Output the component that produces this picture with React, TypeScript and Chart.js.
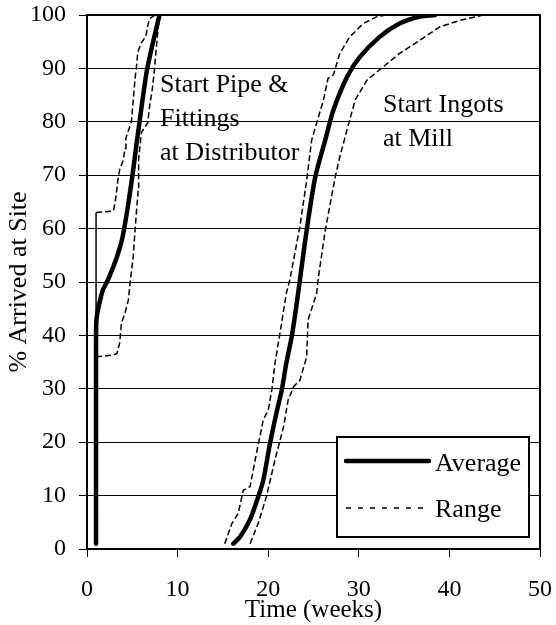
import React, { useEffect, useRef } from "react";
import { Chart, registerables } from "chart.js";

Chart.register(...registerables);

const FONT = '"Liberation Serif", "Times New Roman", serif';

// Axis ticks
const xTickValues = [0, 10, 20, 30, 40, 50];
const yTickValues = [0, 10, 20, 30, 40, 50, 60, 70, 80, 90, 100];

// Start Pipe & Fittings at Distributor — average
const pipeAvgWeeks = [1, 1, 1.05, 1.3, 1.75, 2.2, 2.7, 3.3, 3.8, 4.1, 4.5, 4.85, 5.1, 5.4, 5.8, 6.2, 6.65, 7.3, 8.0];
const pipeAvgPct = [1, 40, 43, 45.5, 48.5, 50, 52, 54.7, 57.5, 60, 64, 68, 71, 75, 80, 85, 90, 95, 100];

// Start Pipe & Fittings — range (earliest)
const pipeFastWeeks = [1, 1, 2.9, 3.0, 3.2, 3.4, 3.6, 4.0, 4.2, 4.3, 4.6, 4.9, 5.0, 5.2, 5.3, 5.5, 5.6, 6.0, 6.5, 6.7, 6.9, 7.5];
const pipeFastPct = [1, 63, 63.3, 64, 66, 69, 71, 72.8, 75, 77, 78.5, 80, 82, 86, 88, 91, 93, 94.8, 96, 98, 99.3, 100];

// Start Pipe & Fittings — range (latest)
const pipeSlowWeeks = [1, 1, 2.8, 3.3, 3.6, 3.8, 4.2, 4.56, 4.75, 5.1, 5.3, 5.5, 5.65, 5.7, 6.0, 6.7, 6.9, 7.2, 7.4, 7.7, 8.0];
const pipeSlowPct = [1, 36, 36.3, 36.6, 38.5, 42.3, 44.2, 46.6, 49.8, 54.7, 59.7, 64, 67.2, 73, 78, 79.8, 82.8, 86, 89, 94.8, 100];

// Start Ingots at Mill — average
const ingotAvgWeeks = [16.15, 16.9, 17.96, 18.9, 19.46, 20.2, 20.9, 21.5, 22.0, 22.6, 23.1, 23.5, 24.25, 25.2, 26.3, 27.2, 28.7, 30.1, 32.3, 34.5, 36.75, 38.4];
const ingotAvgPct = [1, 2.3, 5.4, 9.8, 12.9, 19.8, 25.4, 29.8, 34.8, 39.8, 45.4, 50.4, 59.7, 69.7, 76.6, 82.2, 88.4, 92.1, 95.9, 98.4, 99.7, 100];

// Start Ingots — range (earliest)
const ingotFastWeeks = [15.2, 16.0, 16.7, 17.25, 18.0, 18.7, 19.46, 20.0, 20.4, 20.75, 21.3, 22.0, 22.4, 23.5, 24.25, 24.8, 26.1, 26.6, 27.2, 27.9, 29.0, 30.5, 32.0, 33.0];
const ingotFastPct = [1, 4.8, 6.7, 11, 11.7, 17.9, 24.2, 26, 29.8, 34.8, 40.4, 47.9, 50.5, 60.4, 69.1, 76.6, 84.1, 88.1, 88.8, 92.8, 95.9, 98.4, 99.7, 100];

// Start Ingots — range (latest)
const ingotSlowWeeks = [18.0, 18.9, 19.8, 20.75, 21.7, 22.2, 22.8, 23.5, 24.25, 24.4, 25.35, 25.5, 26.3, 27.4, 27.9, 28.7, 29.6, 30.9, 32.7, 34.5, 36.75, 38.96, 41.2, 43.0, 43.7];
const ingotSlowPct = [1, 4.8, 9.8, 16.7, 22.9, 27.9, 30.4, 31.6, 36, 42.9, 47.9, 50.4, 59.7, 69.7, 73.4, 78.5, 84.1, 87.8, 90.3, 92.8, 95.3, 97.8, 99, 99.7, 100];

// Text labels placed at data positions (weeks, %)
const labelPipe = { x: 8.06, y: 85.6, lines: ["Start Pipe &", "Fittings", "at Distributor"] };
const labelIngot = { x: 32.67, y: 81.9, lines: ["Start Ingots", "at Mill"] };
const legendNames = ["Average", "Range"];

const zip = (xs: number[], ys: number[]) => xs.map((x, i) => ({ x, y: ys[i] }));

const rangeDash = [6, 3];

const avgStyle = {
  borderColor: "#000",
  borderWidth: 4.5,
  borderCapStyle: "round" as const,
  borderJoinStyle: "round" as const,
  pointRadius: 0,
  showLine: true,
  tension: 0.3,
  fill: false,
};

const rangeStyle = {
  borderColor: "#000",
  borderWidth: 1.5,
  pointRadius: 0,
  showLine: true,
  tension: 0,
  fill: false,
  segment: {
    borderDash: (ctx: any) => (ctx.p0.parsed.x === ctx.p1.parsed.x ? [] : rangeDash),
  },
};

const decorPlugin = {
  id: "decor",
  beforeDatasetsDraw(chart: any) {
    const { ctx, chartArea: ca } = chart;
    ctx.save();
    ctx.strokeStyle = "#000";
    ctx.lineWidth = 2;
    ctx.strokeRect(ca.left, ca.top, ca.right - ca.left, ca.bottom - ca.top);
    ctx.restore();
  },
  afterDatasetsDraw(chart: any) {
    const { ctx, chartArea: ca, scales } = chart;
    const xs = scales.x;
    const ys = scales.y;
    ctx.save();
    ctx.fillStyle = "#000";
    ctx.font = `26px ${FONT}`;
    ctx.textAlign = "left";
    ctx.textBaseline = "alphabetic";
    for (const lbl of [labelPipe, labelIngot]) {
      const px = xs.getPixelForValue(lbl.x);
      const py = ys.getPixelForValue(lbl.y);
      lbl.lines.forEach((line, i) => ctx.fillText(line, px, py + i * 34));
    }

    // Legend box
    const w = 192;
    const h = 100;
    const L = ca.right - 11 - w;
    const T = ca.bottom - 12 - h;
    ctx.fillStyle = "#fff";
    ctx.fillRect(L, T, w, h);
    ctx.strokeStyle = "#000";
    ctx.lineWidth = 2;
    ctx.strokeRect(L, T, w, h);

    ctx.lineCap = "round";
    ctx.lineWidth = 4.5;
    ctx.beginPath();
    ctx.moveTo(L + 9, T + 24);
    ctx.lineTo(L + 92, T + 24);
    ctx.stroke();

    ctx.lineCap = "butt";
    ctx.lineWidth = 1.5;
    ctx.setLineDash([5, 7]);
    ctx.beginPath();
    ctx.moveTo(L + 9, T + 71);
    ctx.lineTo(L + 92, T + 71);
    ctx.stroke();
    ctx.setLineDash([]);

    ctx.fillStyle = "#000";
    ctx.fillText(legendNames[0], L + 98, T + 34);
    ctx.fillText(legendNames[1], L + 98, T + 80);
    ctx.restore();
  },
};

export default function App() {
  const canvasRef = useRef<HTMLCanvasElement | null>(null);

  useEffect(() => {
    if (!canvasRef.current) return;
    const chart = new Chart(canvasRef.current, {
      type: "scatter",
      data: {
        datasets: [
          { label: "Pipe Average", data: zip(pipeAvgWeeks, pipeAvgPct), ...avgStyle, tension: 0.25 },
          { label: "Pipe Range Fast", data: zip(pipeFastWeeks, pipeFastPct), ...rangeStyle },
          { label: "Pipe Range Slow", data: zip(pipeSlowWeeks, pipeSlowPct), ...rangeStyle },
          { label: "Ingot Average", data: zip(ingotAvgWeeks, ingotAvgPct), ...avgStyle },
          { label: "Ingot Range Fast", data: zip(ingotFastWeeks, ingotFastPct), ...rangeStyle },
          { label: "Ingot Range Slow", data: zip(ingotSlowWeeks, ingotSlowPct), ...rangeStyle },
        ],
      } as any,
      options: {
        animation: false,
        responsive: true,
        maintainAspectRatio: false,
        layout: { padding: { left: 0, top: 15, right: 16, bottom: 0 } },
        plugins: {
          legend: { display: false },
          tooltip: { enabled: false },
        },
        scales: {
          x: {
            type: "linear",
            min: 0,
            max: 50,
            afterBuildTicks: (scale: any) => {
              scale.ticks = xTickValues.map((v) => ({ value: v }));
            },
            afterFit: (scale: any) => {
              scale.height = 76;
              scale.paddingLeft = 0;
              scale.paddingRight = 0;
            },
            ticks: {
              color: "#000",
              font: { family: FONT, size: 24 },
              padding: 18,
              maxRotation: 0,
            },
            grid: {
              drawOnChartArea: false,
              drawTicks: true,
              tickLength: 8,
              color: "#000",
              lineWidth: 1,
            },
            border: { display: true, color: "#000", width: 2 },
            title: {
              display: true,
              text: "Time (weeks)",
              color: "#000",
              font: { family: FONT, size: 25 },
              padding: { top: 0, bottom: 0 },
            },
          },
          y: {
            type: "linear",
            min: 0,
            max: 100,
            afterBuildTicks: (scale: any) => {
              scale.ticks = yTickValues.map((v) => ({ value: v }));
            },
            afterFit: (scale: any) => {
              scale.width = 87;
              scale.paddingTop = 0;
              scale.paddingBottom = 0;
            },
            ticks: {
              color: "#000",
              font: { family: FONT, size: 24 },
              padding: 13,
            },
            grid: {
              drawTicks: true,
              tickLength: 8,
              color: "#000",
              lineWidth: 1,
            },
            border: { display: true, color: "#000", width: 2 },
            title: {
              display: true,
              text: "% Arrived at Site",
              color: "#000",
              font: { family: FONT, size: 26 },
              padding: { top: 4, bottom: 0 },
            },
          },
        },
      } as any,
      plugins: [decorPlugin],
    });
    return () => chart.destroy();
  }, []);

  return (
    <div style={{ position: "absolute", left: 0, top: 0, width: 556, height: 625, background: "#fff" }}>
      <canvas ref={canvasRef} />
    </div>
  );
}
